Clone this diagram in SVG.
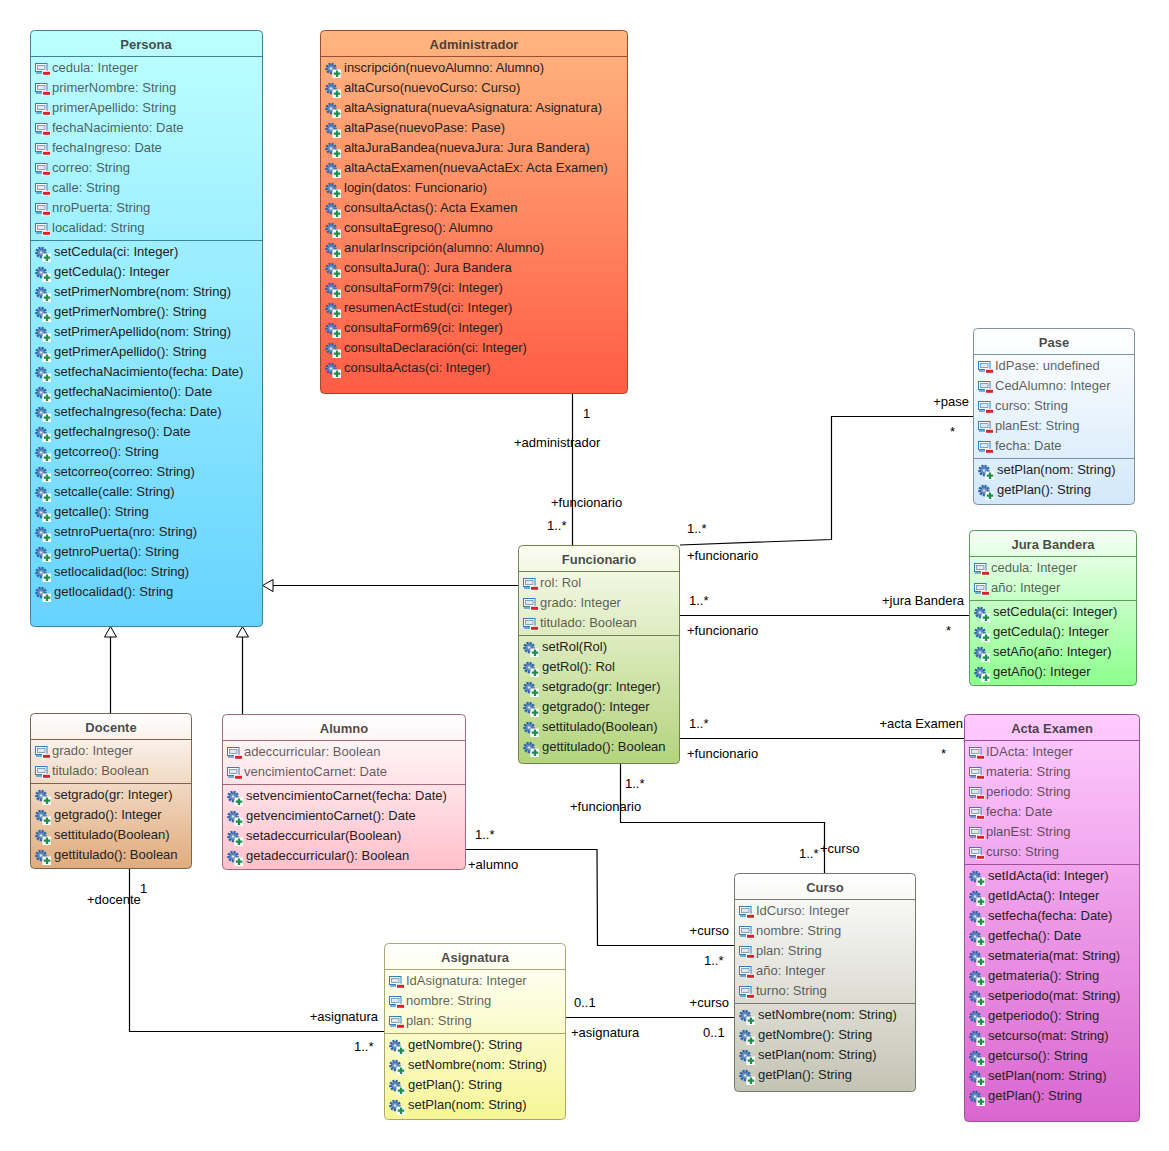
<svg xmlns="http://www.w3.org/2000/svg" width="1169" height="1151" viewBox="0 0 1169 1151">
<style>
text{font-family:"Liberation Sans",Arial,sans-serif;font-size:13px;fill:#000}
.t{font-weight:bold;text-anchor:middle}
.b{stroke-width:1}
.s{stroke-width:1;fill:none}
.c{fill:none;stroke:#000;stroke-width:1.2}
.r{text-anchor:end}
g[id]:not(#connectors) text{fill:#222}
g[id]:not(#connectors) .t{fill-opacity:.82}
use[href="#ia"]+text{fill-opacity:.72}
#persona .b,#persona .s{stroke:#3c8499}
#administrador .b,#administrador .s{stroke:#a04a30}
#pase .b,#pase .s{stroke:#7f929f}
#jura .b,#jura .s{stroke:#58a058}
#acta .b,#acta .s{stroke:#a0509a}
#funcionario .b,#funcionario .s{stroke:#6f8450}
#docente .b,#docente .s{stroke:#7a6450}
#alumno .b,#alumno .s{stroke:#a06a7a}
#curso .b,#curso .s{stroke:#77776e}
#asignatura .b,#asignatura .s{stroke:#a8a870}
</style>
<defs>
<linearGradient id="gp" x1="0" y1="0" x2="0" y2="1"><stop offset="0" stop-color="#bdffff"/><stop offset="1" stop-color="#66d3ff"/></linearGradient>
<linearGradient id="ga" x1="0" y1="0" x2="0" y2="1"><stop offset="0" stop-color="#ffb680"/><stop offset="1" stop-color="#ff5c45"/></linearGradient>
<linearGradient id="gpa" x1="0" y1="0" x2="0" y2="1"><stop offset="0" stop-color="#ffffff"/><stop offset="1" stop-color="#d2e8fa"/></linearGradient>
<linearGradient id="gj" x1="0" y1="0" x2="0" y2="1"><stop offset="0" stop-color="#f5fff5"/><stop offset="1" stop-color="#8dff8d"/></linearGradient>
<linearGradient id="gac" x1="0" y1="0" x2="0" y2="1"><stop offset="0" stop-color="#ffccff"/><stop offset="1" stop-color="#d966cf"/></linearGradient>
<linearGradient id="gf" x1="0" y1="0" x2="0" y2="1"><stop offset="0" stop-color="#fbfcf0"/><stop offset="1" stop-color="#b3d47c"/></linearGradient>
<linearGradient id="gd" x1="0" y1="0" x2="0" y2="1"><stop offset="0" stop-color="#ffffff"/><stop offset="1" stop-color="#e0ab7c"/></linearGradient>
<linearGradient id="gal" x1="0" y1="0" x2="0" y2="1"><stop offset="0" stop-color="#ffffff"/><stop offset="1" stop-color="#ffc0cb"/></linearGradient>
<linearGradient id="gc" x1="0" y1="0" x2="0" y2="1"><stop offset="0" stop-color="#ffffff"/><stop offset="1" stop-color="#c4c4b4"/></linearGradient>
<linearGradient id="gas" x1="0" y1="0" x2="0" y2="1"><stop offset="0" stop-color="#ffffff"/><stop offset="1" stop-color="#f6f696"/></linearGradient>
<symbol id="ia" overflow="visible" viewBox="0 0 16 16" width="16" height="16">
<rect x="1.500" y="2.500" width="11.500" height="8" fill="#fff" stroke="#2f7fc0"/>
<rect x="3.500" y="4.500" width="7.500" height="4" fill="#dfe8f0" stroke="#6f8fa8" stroke-width=".8"/>
<path d="M2 12h11" stroke="#2f7fc0" stroke-width="1.200"/>
<rect x="8" y="9.800" width="8.500" height="5" fill="#fff"/>
<rect x="9" y="10.800" width="7" height="3" fill="#d8232a"/>
</symbol>
<symbol id="im" overflow="visible" viewBox="0 0 16 16" width="16" height="16">
<circle cx="6" cy="7.500" r="4.300" fill="#7f9cc8" stroke="#2a62a8" stroke-width="3" stroke-dasharray="1.900 1"/>
<circle cx="6" cy="7.500" r="1.700" fill="#dfe8f5" stroke="#2a62a8" stroke-width=".6"/>
<rect x="7.500" y="8.500" width="8.500" height="8.500" fill="#fff"/>
<path d="M12 9.500v6.500M8.700 12.700h6.600" stroke="#1c8f4c" stroke-width="2.300"/>
</symbol>
</defs>
<rect width="1169" height="1151" fill="#fff"/>

<g id="connectors">
<path class="c" d="M518 585.500H272"/><path d="M273 579.500L262.500 585.500L273 591.500Z" fill="#fff" stroke="#000"/>
<path class="c" d="M110.500 713V637"/><path d="M104.500 637L110.500 626.500L116.500 637Z" fill="#fff" stroke="#000"/>
<path class="c" d="M242.500 714V637"/><path d="M236.500 637L242.500 626.500L248.500 637Z" fill="#fff" stroke="#000"/>
<path class="c" d="M572.500 394V545"/>
<path class="c" d="M680 545L831.500 539.500V416.500H973"/>
<path class="c" d="M680 615.500H969"/>
<path class="c" d="M680 738.500H964"/>
<path class="c" d="M620.500 764V822.500H824.500V873"/>
<path class="c" d="M466 849.500H597L597.500 945.500H734"/>
<path class="c" d="M129.500 869V1031.500H384"/>
<path class="c" d="M566 1017.500H734"/>
<text x="583" y="418">1</text>
<text x="514" y="447">+administrador</text>
<text x="551" y="507">+funcionario</text>
<text x="547" y="530">1..*</text>
<text x="687" y="533">1..*</text>
<text x="687" y="560">+funcionario</text>
<text x="969" y="406" class="r">+pase</text>
<text x="950" y="436">*</text>
<text x="689" y="605">1..*</text>
<text x="687" y="635">+funcionario</text>
<text x="964" y="605" class="r">+jura Bandera</text>
<text x="946" y="635">*</text>
<text x="689" y="728">1..*</text>
<text x="687" y="758">+funcionario</text>
<text x="963" y="728" class="r">+acta Examen</text>
<text x="941" y="758">*</text>
<text x="625" y="788">1..*</text>
<text x="570" y="811">+funcionario</text>
<text x="799" y="858">1..*</text>
<text x="820" y="853">+curso</text>
<text x="475" y="839">1..*</text>
<text x="468" y="869">+alumno</text>
<text x="729" y="935" class="r">+curso</text>
<text x="704" y="965">1..*</text>
<text x="140" y="893">1</text>
<text x="87" y="904">+docente</text>
<text x="378" y="1021" class="r">+asignatura</text>
<text x="354" y="1051">1..*</text>
<text x="574" y="1007">0..1</text>
<text x="571" y="1037">+asignatura</text>
<text x="729" y="1007" class="r">+curso</text>
<text x="703" y="1037">0..1</text>
</g>

<g id="persona">
<rect class="b" x="30.500" y="30.500" width="232" height="596" rx="4" fill="url(#gp)"/>
<path class="s" d="M30.500 56.500H262.500M30.500 240.500H262.500"/>
<text class="t" x="146" y="49">Persona</text>
<use href="#ia" x="34" y="61"/><text x="52" y="72">cedula: Integer</text>
<use href="#ia" x="34" y="81"/><text x="52" y="92">primerNombre: String</text>
<use href="#ia" x="34" y="101"/><text x="52" y="112">primerApellido: String</text>
<use href="#ia" x="34" y="121"/><text x="52" y="132">fechaNacimiento: Date</text>
<use href="#ia" x="34" y="141"/><text x="52" y="152">fechaIngreso: Date</text>
<use href="#ia" x="34" y="161"/><text x="52" y="172">correo: String</text>
<use href="#ia" x="34" y="181"/><text x="52" y="192">calle: String</text>
<use href="#ia" x="34" y="201"/><text x="52" y="212">nroPuerta: String</text>
<use href="#ia" x="34" y="221"/><text x="52" y="232">localidad: String</text>
<use href="#im" x="35" y="245"/><text x="54" y="256">setCedula(ci: Integer)</text>
<use href="#im" x="35" y="265"/><text x="54" y="276">getCedula(): Integer</text>
<use href="#im" x="35" y="285"/><text x="54" y="296">setPrimerNombre(nom: String)</text>
<use href="#im" x="35" y="305"/><text x="54" y="316">getPrimerNombre(): String</text>
<use href="#im" x="35" y="325"/><text x="54" y="336">setPrimerApellido(nom: String)</text>
<use href="#im" x="35" y="345"/><text x="54" y="356">getPrimerApellido(): String</text>
<use href="#im" x="35" y="365"/><text x="54" y="376">setfechaNacimiento(fecha: Date)</text>
<use href="#im" x="35" y="385"/><text x="54" y="396">getfechaNacimiento(): Date</text>
<use href="#im" x="35" y="405"/><text x="54" y="416">setfechaIngreso(fecha: Date)</text>
<use href="#im" x="35" y="425"/><text x="54" y="436">getfechaIngreso(): Date</text>
<use href="#im" x="35" y="445"/><text x="54" y="456">getcorreo(): String</text>
<use href="#im" x="35" y="465"/><text x="54" y="476">setcorreo(correo: String)</text>
<use href="#im" x="35" y="485"/><text x="54" y="496">setcalle(calle: String)</text>
<use href="#im" x="35" y="505"/><text x="54" y="516">getcalle(): String</text>
<use href="#im" x="35" y="525"/><text x="54" y="536">setnroPuerta(nro: String)</text>
<use href="#im" x="35" y="545"/><text x="54" y="556">getnroPuerta(): String</text>
<use href="#im" x="35" y="565"/><text x="54" y="576">setlocalidad(loc: String)</text>
<use href="#im" x="35" y="585"/><text x="54" y="596">getlocalidad(): String</text>
</g>

<g id="administrador">
<rect class="b" x="320.500" y="30.500" width="307" height="363" rx="4" fill="url(#ga)"/>
<path class="s" d="M320.500 56.500H627.500"/>
<text class="t" x="474" y="49">Administrador</text>
<use href="#im" x="325" y="61"/><text x="344" y="72">inscripción(nuevoAlumno: Alumno)</text>
<use href="#im" x="325" y="81"/><text x="344" y="92">altaCurso(nuevoCurso: Curso)</text>
<use href="#im" x="325" y="101"/><text x="344" y="112">altaAsignatura(nuevaAsignatura: Asignatura)</text>
<use href="#im" x="325" y="121"/><text x="344" y="132">altaPase(nuevoPase: Pase)</text>
<use href="#im" x="325" y="141"/><text x="344" y="152">altaJuraBandea(nuevaJura: Jura Bandera)</text>
<use href="#im" x="325" y="161"/><text x="344" y="172">altaActaExamen(nuevaActaEx: Acta Examen)</text>
<use href="#im" x="325" y="181"/><text x="344" y="192">login(datos: Funcionario)</text>
<use href="#im" x="325" y="201"/><text x="344" y="212">consultaActas(): Acta Examen</text>
<use href="#im" x="325" y="221"/><text x="344" y="232">consultaEgreso(): Alumno</text>
<use href="#im" x="325" y="241"/><text x="344" y="252">anularInscripción(alumno: Alumno)</text>
<use href="#im" x="325" y="261"/><text x="344" y="272">consultaJura(): Jura Bandera</text>
<use href="#im" x="325" y="281"/><text x="344" y="292">consultaForm79(ci: Integer)</text>
<use href="#im" x="325" y="301"/><text x="344" y="312">resumenActEstud(ci: Integer)</text>
<use href="#im" x="325" y="321"/><text x="344" y="332">consultaForm69(ci: Integer)</text>
<use href="#im" x="325" y="341"/><text x="344" y="352">consultaDeclaración(ci: Integer)</text>
<use href="#im" x="325" y="361"/><text x="344" y="372">consultaActas(ci: Integer)</text>
</g>

<g id="pase">
<rect class="b" x="973.500" y="328.500" width="161" height="176" rx="4" fill="url(#gpa)"/>
<path class="s" d="M973.500 354.500H1134.500M973.500 458.500H1134.500"/>
<text class="t" x="1054" y="347">Pase</text>
<use href="#ia" x="977" y="359"/><text x="995" y="370">IdPase: undefined</text>
<use href="#ia" x="977" y="379"/><text x="995" y="390">CedAlumno: Integer</text>
<use href="#ia" x="977" y="399"/><text x="995" y="410">curso: String</text>
<use href="#ia" x="977" y="419"/><text x="995" y="430">planEst: String</text>
<use href="#ia" x="977" y="439"/><text x="995" y="450">fecha: Date</text>
<use href="#im" x="978" y="463"/><text x="997" y="474">setPlan(nom: String)</text>
<use href="#im" x="978" y="483"/><text x="997" y="494">getPlan(): String</text>
</g>

<g id="jura">
<rect class="b" x="969.500" y="530.500" width="167" height="155" rx="4" fill="url(#gj)"/>
<path class="s" d="M969.500 556.500H1136.500M969.500 600.500H1136.500"/>
<text class="t" x="1053" y="549">Jura Bandera</text>
<use href="#ia" x="973" y="561"/><text x="991" y="572">cedula: Integer</text>
<use href="#ia" x="973" y="581"/><text x="991" y="592">año: Integer</text>
<use href="#im" x="974" y="605"/><text x="993" y="616">setCedula(ci: Integer)</text>
<use href="#im" x="974" y="625"/><text x="993" y="636">getCedula(): Integer</text>
<use href="#im" x="974" y="645"/><text x="993" y="656">setAño(año: Integer)</text>
<use href="#im" x="974" y="665"/><text x="993" y="676">getAño(): Integer</text>
</g>

<g id="acta">
<rect class="b" x="964.500" y="714.500" width="175" height="407" rx="4" fill="url(#gac)"/>
<path class="s" d="M964.500 740.500H1139.500M964.500 864.500H1139.500"/>
<text class="t" x="1052" y="733">Acta Examen</text>
<use href="#ia" x="968" y="745"/><text x="986" y="756">IDActa: Integer</text>
<use href="#ia" x="968" y="765"/><text x="986" y="776">materia: String</text>
<use href="#ia" x="968" y="785"/><text x="986" y="796">periodo: String</text>
<use href="#ia" x="968" y="805"/><text x="986" y="816">fecha: Date</text>
<use href="#ia" x="968" y="825"/><text x="986" y="836">planEst: String</text>
<use href="#ia" x="968" y="845"/><text x="986" y="856">curso: String</text>
<use href="#im" x="969" y="869"/><text x="988" y="880">setIdActa(id: Integer)</text>
<use href="#im" x="969" y="889"/><text x="988" y="900">getIdActa(): Integer</text>
<use href="#im" x="969" y="909"/><text x="988" y="920">setfecha(fecha: Date)</text>
<use href="#im" x="969" y="929"/><text x="988" y="940">getfecha(): Date</text>
<use href="#im" x="969" y="949"/><text x="988" y="960">setmateria(mat: String)</text>
<use href="#im" x="969" y="969"/><text x="988" y="980">getmateria(): String</text>
<use href="#im" x="969" y="989"/><text x="988" y="1000">setperiodo(mat: String)</text>
<use href="#im" x="969" y="1009"/><text x="988" y="1020">getperiodo(): String</text>
<use href="#im" x="969" y="1029"/><text x="988" y="1040">setcurso(mat: String)</text>
<use href="#im" x="969" y="1049"/><text x="988" y="1060">getcurso(): String</text>
<use href="#im" x="969" y="1069"/><text x="988" y="1080">setPlan(nom: String)</text>
<use href="#im" x="969" y="1089"/><text x="988" y="1100">getPlan(): String</text>
</g>

<g id="funcionario">
<rect class="b" x="518.500" y="545.500" width="161" height="218" rx="4" fill="url(#gf)"/>
<path class="s" d="M518.500 571.500H679.500M518.500 635.500H679.500"/>
<text class="t" x="599" y="564">Funcionario</text>
<use href="#ia" x="522" y="576"/><text x="540" y="587">rol: Rol</text>
<use href="#ia" x="522" y="596"/><text x="540" y="607">grado: Integer</text>
<use href="#ia" x="522" y="616"/><text x="540" y="627">titulado: Boolean</text>
<use href="#im" x="523" y="640"/><text x="542" y="651">setRol(Rol)</text>
<use href="#im" x="523" y="660"/><text x="542" y="671">getRol(): Rol</text>
<use href="#im" x="523" y="680"/><text x="542" y="691">setgrado(gr: Integer)</text>
<use href="#im" x="523" y="700"/><text x="542" y="711">getgrado(): Integer</text>
<use href="#im" x="523" y="720"/><text x="542" y="731">settitulado(Boolean)</text>
<use href="#im" x="523" y="740"/><text x="542" y="751">gettitulado(): Boolean</text>
</g>

<g id="docente">
<rect class="b" x="30.500" y="713.500" width="161" height="155" rx="4" fill="url(#gd)"/>
<path class="s" d="M30.500 739.500H191.500M30.500 783.500H191.500"/>
<text class="t" x="111" y="732">Docente</text>
<use href="#ia" x="34" y="744"/><text x="52" y="755">grado: Integer</text>
<use href="#ia" x="34" y="764"/><text x="52" y="775">titulado: Boolean</text>
<use href="#im" x="35" y="788"/><text x="54" y="799">setgrado(gr: Integer)</text>
<use href="#im" x="35" y="808"/><text x="54" y="819">getgrado(): Integer</text>
<use href="#im" x="35" y="828"/><text x="54" y="839">settitulado(Boolean)</text>
<use href="#im" x="35" y="848"/><text x="54" y="859">gettitulado(): Boolean</text>
</g>

<g id="alumno">
<rect class="b" x="222.500" y="714.500" width="243" height="155" rx="4" fill="url(#gal)"/>
<path class="s" d="M222.500 740.500H465.500M222.500 784.500H465.500"/>
<text class="t" x="344" y="733">Alumno</text>
<use href="#ia" x="226" y="745"/><text x="244" y="756">adeccurricular: Boolean</text>
<use href="#ia" x="226" y="765"/><text x="244" y="776">vencimientoCarnet: Date</text>
<use href="#im" x="227" y="789"/><text x="246" y="800">setvencimientoCarnet(fecha: Date)</text>
<use href="#im" x="227" y="809"/><text x="246" y="820">getvencimientoCarnet(): Date</text>
<use href="#im" x="227" y="829"/><text x="246" y="840">setadeccurricular(Boolean)</text>
<use href="#im" x="227" y="849"/><text x="246" y="860">getadeccurricular(): Boolean</text>
</g>

<g id="curso">
<rect class="b" x="734.500" y="873.500" width="181" height="218" rx="4" fill="url(#gc)"/>
<path class="s" d="M734.500 899.500H915.500M734.500 1003.500H915.500"/>
<text class="t" x="825" y="892">Curso</text>
<use href="#ia" x="738" y="904"/><text x="756" y="915">IdCurso: Integer</text>
<use href="#ia" x="738" y="924"/><text x="756" y="935">nombre: String</text>
<use href="#ia" x="738" y="944"/><text x="756" y="955">plan: String</text>
<use href="#ia" x="738" y="964"/><text x="756" y="975">año: Integer</text>
<use href="#ia" x="738" y="984"/><text x="756" y="995">turno: String</text>
<use href="#im" x="739" y="1008"/><text x="758" y="1019">setNombre(nom: String)</text>
<use href="#im" x="739" y="1028"/><text x="758" y="1039">getNombre(): String</text>
<use href="#im" x="739" y="1048"/><text x="758" y="1059">setPlan(nom: String)</text>
<use href="#im" x="739" y="1068"/><text x="758" y="1079">getPlan(): String</text>
</g>

<g id="asignatura">
<rect class="b" x="384.500" y="943.500" width="181" height="176" rx="4" fill="url(#gas)"/>
<path class="s" d="M384.500 969.500H565.500M384.500 1033.500H565.500"/>
<text class="t" x="475" y="962">Asignatura</text>
<use href="#ia" x="388" y="974"/><text x="406" y="985">IdAsignatura: Integer</text>
<use href="#ia" x="388" y="994"/><text x="406" y="1005">nombre: String</text>
<use href="#ia" x="388" y="1014"/><text x="406" y="1025">plan: String</text>
<use href="#im" x="389" y="1038"/><text x="408" y="1049">getNombre(): String</text>
<use href="#im" x="389" y="1058"/><text x="408" y="1069">setNombre(nom: String)</text>
<use href="#im" x="389" y="1078"/><text x="408" y="1089">getPlan(): String</text>
<use href="#im" x="389" y="1098"/><text x="408" y="1109">setPlan(nom: String)</text>
</g>
</svg>
